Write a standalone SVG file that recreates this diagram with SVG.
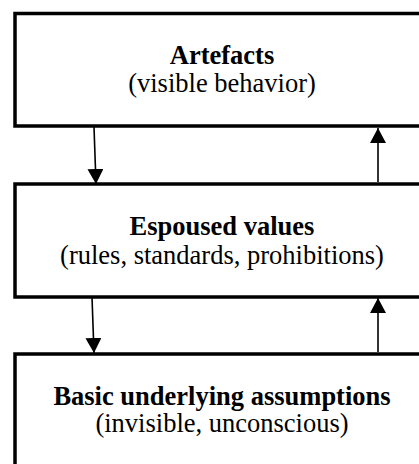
<svg xmlns="http://www.w3.org/2000/svg" width="419" height="464" viewBox="0 0 419 464">
<style>
.box{fill:#fff;stroke:#000;stroke-width:3.5}
.conn{stroke:#000;stroke-width:1.6;fill:none}
text{font-family:"Liberation Serif","Times New Roman",serif;font-size:26.5px;fill:#000;text-anchor:middle}
.b{font-weight:bold}
</style>
<defs>
<marker id="ah" markerUnits="userSpaceOnUse" markerWidth="16" markerHeight="16" refX="15" refY="8" orient="auto">
<path d="M0,0 L15,8 L0,16 Z" fill="#000"/>
</marker>
</defs>
<rect width="419" height="464" fill="#fff"/>
<g id="artefacts">
<rect class="box" x="15" y="13.5" width="420" height="112.5"/>
<text class="b" x="222" y="64">Artefacts</text>
<text x="222" y="92">(visible behavior)</text>
</g>
<g id="espoused">
<rect class="box" x="15" y="184" width="420" height="113"/>
<text class="b" x="222" y="235">Espoused values</text>
<text x="222" y="264">(rules, standards, prohibitions)</text>
</g>
<g id="assumptions">
<rect class="box" x="15" y="354" width="420" height="120"/>
<text class="b" x="222" y="405">Basic underlying assumptions</text>
<text x="222" y="432">(invisible, unconscious)</text>
</g>
<g id="connectors">
<line class="conn" x1="94" y1="127" x2="96" y2="184" marker-end="url(#ah)"/>
<line class="conn" x1="378" y1="182" x2="378" y2="128" marker-end="url(#ah)"/>
<line class="conn" x1="92" y1="297" x2="94" y2="353" marker-end="url(#ah)"/>
<line class="conn" x1="378" y1="352" x2="378" y2="298" marker-end="url(#ah)"/>
</g>
</svg>
